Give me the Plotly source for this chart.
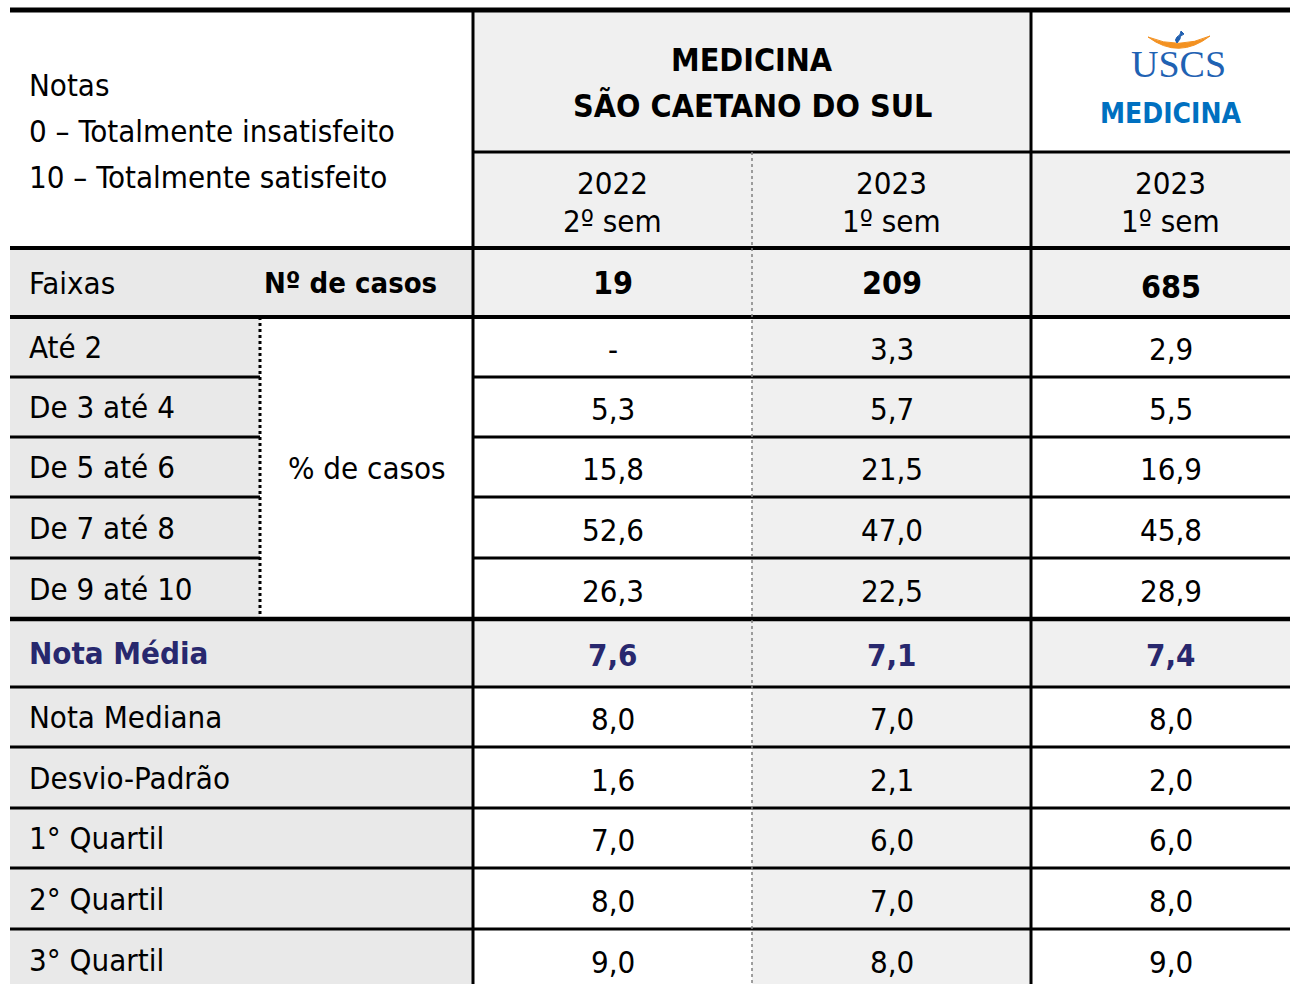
import plotly.graph_objects as go

# ---------------- data ----------------
notes_lines = ["Notas", "0 – Totalmente insatisfeito", "10 – Totalmente satisfeito"]
group_title = ["MEDICINA", "SÃO CAETANO DO SUL"]
logo_text = "USCS"
logo_sub = "MEDICINA"
period_years = ["2022", "2023", "2023"]
period_sems = ["2º sem", "1º sem", "1º sem"]
faixas_label = "Faixas"
casos_label = "Nº de casos"
pct_label = "% de casos"
n_casos = [19, 209, 685]
faixas = ["Até 2", "De 3 até 4", "De 5 até 6", "De 7 até 8", "De 9 até 10"]
pct_2022 = [None, 5.3, 15.8, 52.6, 26.3]
pct_2023 = [3.3, 5.7, 21.5, 47.0, 22.5]
pct_uscs = [2.9, 5.5, 16.9, 45.8, 28.9]
stat_labels = ["Nota Média", "Nota Mediana", "Desvio-Padrão", "1° Quartil", "2° Quartil", "3° Quartil"]
stat_2022 = [7.6, 8.0, 1.6, 7.0, 8.0, 9.0]
stat_2023 = [7.1, 7.0, 2.1, 6.0, 7.0, 8.0]
stat_uscs = [7.4, 8.0, 2.0, 6.0, 8.0, 9.0]

# ---------------- layout constants ----------------
W, H = 1290, 984
FONT = "DejaVu Sans Condensed, DejaVu Sans"
FS = 31
GRAY_L = "#e9e9e9"
GRAY_D = "#f0f0f0"
NAVY = "#28286e"
BLUE = "#0070c0"
COLX = [10, 260, 473, 752, 1031, 1310]           # column edges
HEAD = [10, 152, 248, 317]                          # header row edges
PROW = [317, 377, 437, 497, 558, 619]               # percentage row edges
SROW = [619, 687, 747, 808, 868, 929, 990]          # stats row edges
LEFT_PAD = 27
data_cols = [(COLX[2], COLX[3]), (COLX[3], COLX[4]), (COLX[4], COLX[5])]
col_fill = ["white", GRAY_D, "white"]

shapes = []
ann = []


def rect(x0, y0, x1, y1, fill):
    shapes.append(dict(type="rect", xref="x", yref="y", x0=x0, y0=y0, x1=x1, y1=y1,
                       fillcolor=fill, line=dict(width=0), layer="below"))


def line(x0, y0, x1, y1, w=3, color="black", dash="solid"):
    shapes.append(dict(type="line", xref="x", yref="y", x0=x0, y0=y0, x1=x1, y1=y1,
                       line=dict(color=color, width=w, dash=dash), layer="above"))


def text(x, y, s, size=FS, color="black", bold=False, align="center", family=FONT):
    ann.append(dict(x=x, y=y, xref="x", yref="y", text=("<b>%s</b>" % s) if bold else s,
                    showarrow=False, xanchor=align, yanchor="middle",
                    font=dict(family=family, size=size, color=color)))


def fmt(v):
    return "-" if v is None else ("%.1f" % v).replace(".", ",")


mid = lambda a, b: (a + b) / 2

# ---------------- fills ----------------
rect(COLX[0], HEAD[0], COLX[2], HEAD[2], "white")
rect(COLX[2], HEAD[0], COLX[4], HEAD[1], GRAY_D)
rect(COLX[4], HEAD[0], COLX[5], HEAD[1], "white")
rect(COLX[2], HEAD[1], COLX[5], HEAD[2], GRAY_D)
rect(COLX[0], HEAD[2], COLX[2], HEAD[3], GRAY_L)
rect(COLX[2], HEAD[2], COLX[5], HEAD[3], GRAY_D)
rect(COLX[0], PROW[0], COLX[1], PROW[-1], GRAY_L)
rect(COLX[1], PROW[0], COLX[2], PROW[-1], "white")
for (a, b), f in zip(data_cols, col_fill):
    rect(a, PROW[0], b, PROW[-1], f)
rect(COLX[0], SROW[0], COLX[2], SROW[1], GRAY_L)
rect(COLX[2], SROW[0], COLX[5], SROW[1], GRAY_D)
rect(COLX[0], SROW[1], COLX[2], SROW[-1], GRAY_L)
for (a, b), f in zip(data_cols, col_fill):
    rect(a, SROW[1], b, SROW[-1], f)

# ---------------- lines ----------------
line(COLX[0], HEAD[0], COLX[5], HEAD[0], w=5)
line(COLX[2], HEAD[1], COLX[5], HEAD[1], w=3)
line(COLX[0], HEAD[2], COLX[5], HEAD[2], w=4)
line(COLX[0], HEAD[3], COLX[5], HEAD[3], w=4)
for y in PROW[1:-1]:
    line(COLX[0], y, COLX[1], y, w=3)
    line(COLX[2], y, COLX[5], y, w=3)
line(COLX[0], PROW[-1], COLX[5], PROW[-1], w=4.5)
for y in SROW[1:-1]:
    line(COLX[0], y, COLX[5], y, w=3)
line(COLX[2], HEAD[0], COLX[2], H, w=3)
line(COLX[4], HEAD[0], COLX[4], H, w=3)
line(COLX[3], HEAD[1], COLX[3], H, w=1.5, color="#808080", dash="dot")
line(COLX[1], PROW[0], COLX[1], PROW[-1], w=3, dash="dot")

# ---------------- logo ----------------
shapes.append(dict(type="path", xref="x", yref="y", layer="above",
                   path="M 1148,37 Q 1179,60 1210,36 Q 1179,50 1148,37 Z",
                   fillcolor="#f39121", line=dict(color="#f39121", width=1)))
shapes.append(dict(type="path", xref="x", yref="y", layer="above",
                   path="M 1181,31 L 1184,34 Q 1179,36 1180,39 L 1177,43 Q 1174,40 1177,37 Q 1181,35 1181,31 Z",
                   fillcolor="#1f5fb0", line=dict(color="#1f5fb0", width=1)))
text(1178.5, 64, logo_text, size=38, color="#1f62b3", family="Liberation Serif, serif")
text(mid(*data_cols[2]), 113, logo_sub, size=28, color=BLUE, bold=True)

# ---------------- header texts ----------------
for i, s in enumerate(notes_lines):
    text(LEFT_PAD, 85 + 46 * i, s, align="left")
text(mid(COLX[2], COLX[4]), 60, group_title[0], size=32, bold=True)
text(mid(COLX[2], COLX[4]), 106, group_title[1], size=32, bold=True)
for (a, b), yr, sm in zip(data_cols, period_years, period_sems):
    text(mid(a, b), 183, yr)
    text(mid(a, b), 221, sm)

text(LEFT_PAD, mid(HEAD[2], HEAD[3]), faixas_label, align="left")
text(262, mid(HEAD[2], HEAD[3]), casos_label, size=29, bold=True, align="left")
for (a, b), n, dy in zip(data_cols, n_casos, [0, 0, 4]):
    text(mid(a, b), mid(HEAD[2], HEAD[3]) + dy, str(n), size=32, bold=True)

# ---------------- percentage rows ----------------
text(mid(COLX[1], COLX[2]), mid(PROW[0], PROW[-1]), pct_label)
for i, lab in enumerate(faixas):
    yc = mid(PROW[i], PROW[i + 1])
    text(LEFT_PAD, yc, lab, align="left")
    for (a, b), vals in zip(data_cols, [pct_2022, pct_2023, pct_uscs]):
        text(mid(a, b), yc + 2, fmt(vals[i]))

# ---------------- stats rows ----------------
for i, lab in enumerate(stat_labels):
    yc = mid(SROW[i], SROW[i + 1])
    first = i == 0
    text(LEFT_PAD, yc, lab, align="left", bold=first, color=NAVY if first else "black")
    for (a, b), vals in zip(data_cols, [stat_2022, stat_2023, stat_uscs]):
        text(mid(a, b), yc + 2, fmt(vals[i]), bold=first, color=NAVY if first else "black")

fig = go.Figure()
fig.add_trace(go.Scatter(x=[0, W], y=[0, H], mode="markers", marker=dict(opacity=0),
                         hoverinfo="skip", showlegend=False))
fig.update_layout(width=W, height=H, margin=dict(l=0, r=0, t=0, b=0),
                  paper_bgcolor="white", plot_bgcolor="white",
                  xaxis=dict(range=[0, W], visible=False, fixedrange=True),
                  yaxis=dict(range=[H, 0], visible=False, fixedrange=True),
                  shapes=shapes, annotations=ann, showlegend=False)
fig.write_html("out.html", config={"displayModeBar": False},
               post_script="document.body.style.margin='0';document.body.style.overflow='hidden';")
